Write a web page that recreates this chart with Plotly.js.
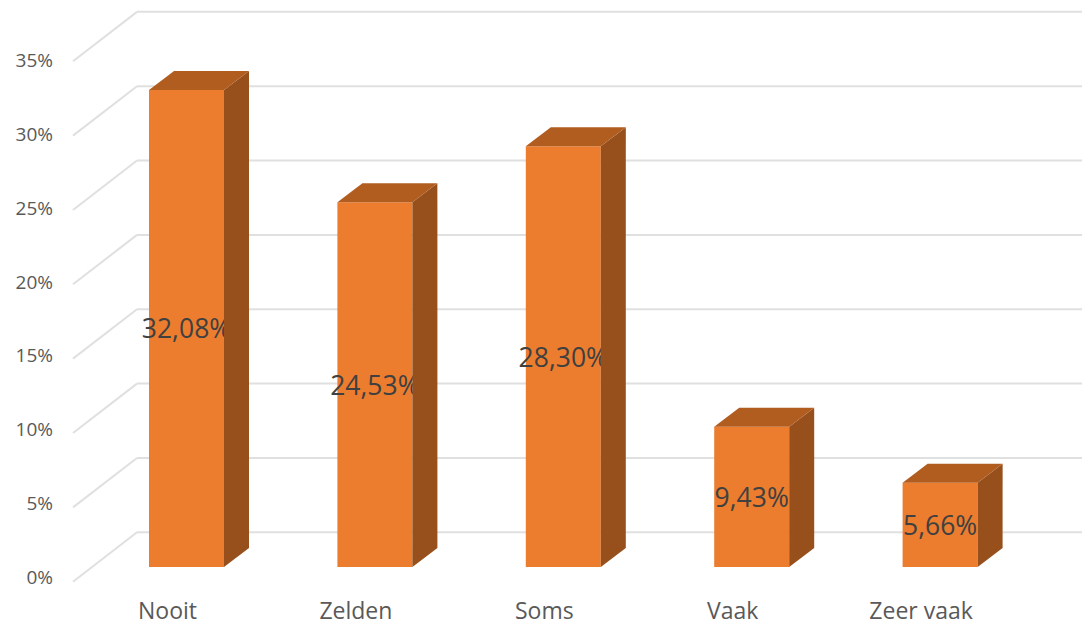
<!DOCTYPE html>
<html><head><meta charset="utf-8">
<script src="https://cdn.plot.ly/plotly-3.0.1.min.js"></script>
<style>html,body{margin:0;padding:0;background:#fff}</style></head>
<body><div id="chart" style="width:1082px;height:626px"></div>
<script>
const categories = ["Nooit","Zelden","Soms","Vaak","Zeer vaak"];
const values = [32.08,24.53,28.30,9.43,5.66];
const valueLabels = ["32,08%","24,53%","28,30%","9,43%","5,66%"];
const yTickValues = [0,5,10,15,20,25,30,35];
const yTickLabels = ["0%","5%","10%","15%","20%","25%","30%","35%"];

// plot area <-> pixel calibration (category unit = 188.4px, 1% = 14.87px)
const W=1082,H=626,mL=54,mR=0,mT=0,mB=31;
const pxX=188.4, pxY=14.87, x0Px=186.5, y0Px=567;
const xr=[(mL-x0Px)/pxX,(W-mR-x0Px)/pxX];
const yr=[(y0Px-(H-mB))/pxY,(y0Px-mT)/pxY];
const halfW=37.5/pxX, depthX=25/pxX, depthY=19/pxY;
const wallBackX=(137-x0Px)/pxX, wallFrontX=(73-x0Px)/pxX, wallFrontY=(567-581.7)/pxY, wallBackY=(567-532.3)/pxY;

// back wall gridlines and side wall diagonals, kept behind the bars
const gridLine={color:"#e0e0e0",width:2};
const shapes=[];
yTickValues.forEach(v=>{
  shapes.push({type:"line",layer:"below",xref:"x",yref:"y",x0:wallFrontX,y0:v+wallFrontY,x1:wallBackX,y1:v+wallBackY,line:gridLine});
  shapes.push({type:"line",layer:"below",xref:"x",yref:"y",x0:wallBackX,y0:v+wallBackY,x1:xr[1],y1:v+wallBackY,line:gridLine});
});

const traces=[];
// front faces
traces.push({type:"bar",x:categories.map((c,i)=>i),y:values,width:halfW*2,
  marker:{color:"#ec7d2f",line:{width:0}},text:valueLabels,textposition:"inside",insidetextanchor:"middle",
  textangle:0,constraintext:"none",cliponaxis:false,
  textfont:{family:"Open Sans",size:26.5,color:"#404040"},showlegend:false});
// side and top faces, derived from each value
values.forEach((v,i)=>{
  traces.push({type:"scatter",mode:"lines",fill:"toself",fillcolor:"#97501c",line:{width:0},
    x:[i+halfW,i+halfW+depthX,i+halfW+depthX,i+halfW,i+halfW],
    y:[0,depthY,v+depthY,v,0],hoverinfo:"skip",showlegend:false});
  traces.push({type:"scatter",mode:"lines",fill:"toself",fillcolor:"#b25d20",line:{width:0},
    x:[i-halfW,i-halfW+depthX,i+halfW+depthX,i+halfW,i-halfW],
    y:[v,v+depthY,v+depthY,v,v],hoverinfo:"skip",showlegend:false});
});
// carrier for the label axes, whose labels are offset from the bars and wall
traces.push({type:"scatter",mode:"markers",x:[0],y:[0],xaxis:"x2",yaxis:"y2",marker:{opacity:0},hoverinfo:"skip",showlegend:false});

const xShift=19/pxX;
const pxY2=14.78, y0Label=577.5;
const layout={width:W,height:H,margin:{l:mL,r:mR,t:mT,b:mB},paper_bgcolor:"#fff",plot_bgcolor:"#fff",showlegend:false,
  font:{family:"Open Sans",color:"#595959"},shapes:shapes,
  xaxis:{range:xr,showgrid:false,zeroline:false,showline:false,showticklabels:false,ticks:""},
  yaxis:{range:yr,showgrid:false,zeroline:false,showline:false,showticklabels:false,ticks:""},
  xaxis2:{overlaying:"x",side:"bottom",range:[xr[0]+xShift,xr[1]+xShift],tickvals:categories.map((c,i)=>i),ticktext:categories,
    showgrid:false,zeroline:false,showline:false,ticks:"",tickfont:{family:"Open Sans",size:23,color:"#595959"}},
  yaxis2:{overlaying:"y",side:"left",range:[(y0Label-(H-mB))/pxY2,(y0Label-mT)/pxY2],tickvals:yTickValues,ticktext:yTickLabels,
    showgrid:false,zeroline:false,showline:false,ticks:"",tickfont:{family:"Open Sans",size:19,color:"#595959"}}
};
Plotly.newPlot("chart",traces,layout,{displayModeBar:false,staticPlot:true});
</script></body></html>
